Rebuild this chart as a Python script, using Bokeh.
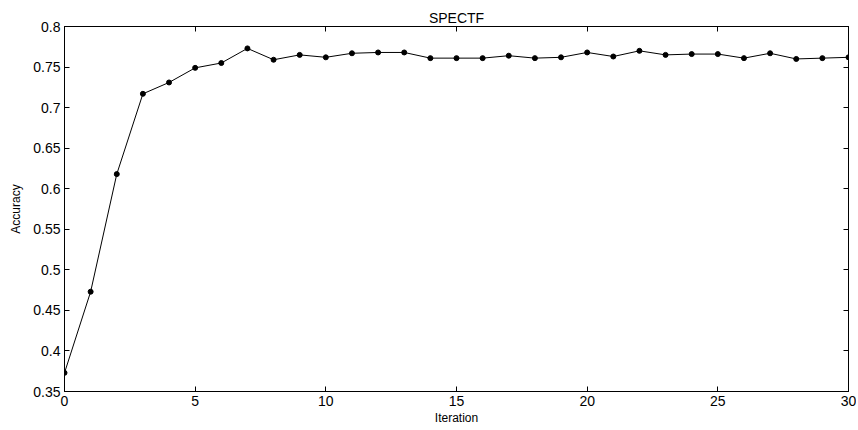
from bokeh.plotting import figure
from bokeh.models import LinearAxis, Range1d, FixedTicker
from bokeh.embed import file_html
from bokeh.resources import INLINE

iterations = list(range(31))
accuracy = [0.373, 0.473, 0.618, 0.717, 0.731, 0.749, 0.755, 0.773, 0.759, 0.765,
            0.762, 0.767, 0.768, 0.768, 0.761, 0.761, 0.761, 0.764, 0.761, 0.762,
            0.768, 0.763, 0.770, 0.765, 0.766, 0.766, 0.761, 0.767, 0.760, 0.761, 0.762]
x_ticks = [0, 5, 10, 15, 20, 25, 30]
y_ticks = [0.35, 0.4, 0.45, 0.5, 0.55, 0.6, 0.65, 0.7, 0.75, 0.8]

FONT = "Liberation Sans"

p = figure(width=856, height=428, output_backend="svg", toolbar_location=None,
           x_range=Range1d(0, 30), y_range=Range1d(0.35, 0.8),
           title="SPECTF", x_axis_label="Iteration", y_axis_label="Accuracy",
           min_border_left=64, min_border_right=8, min_border_top=26, min_border_bottom=37)

p.line(iterations, accuracy, line_color="black", line_width=1)
p.scatter(iterations, accuracy, size=5, color="black")

p.grid.visible = False
p.outline_line_color = "black"
p.outline_line_width = 1

p.title.align = "center"
p.title.text_font = FONT
p.title.text_font_size = "14px"
p.title.text_font_style = "normal"
p.title.text_color = "black"
p.title.standoff = 2

for ax in p.xaxis + p.yaxis:
    ax.major_label_text_font = FONT
    ax.major_label_text_font_size = "14px"
    ax.major_label_text_color = "black"
    ax.axis_label_text_font = FONT
    ax.axis_label_text_font_size = "12px"
    ax.axis_label_text_font_style = "normal"
    ax.axis_label_text_color = "black"
    ax.major_tick_in = 5
    ax.major_tick_out = 0
    ax.minor_tick_in = 0
    ax.minor_tick_out = 0
    ax.axis_line_color = "black"
    ax.major_tick_line_color = "black"
    ax.major_label_standoff = 4
    ax.axis_label_standoff = 2

p.yaxis.axis_label_standoff = 7

p.xaxis.ticker = FixedTicker(ticks=x_ticks)
p.yaxis.ticker = FixedTicker(ticks=y_ticks)
p.yaxis.formatter.use_scientific = False

top = LinearAxis(ticker=FixedTicker(ticks=x_ticks), major_label_text_font_size="0px",
                 major_tick_in=5, major_tick_out=0, minor_tick_in=0, minor_tick_out=0,
                 major_label_standoff=0, major_tick_line_color="black", axis_line_color="black")
right = LinearAxis(ticker=FixedTicker(ticks=y_ticks), major_label_text_font_size="0px",
                   major_tick_in=5, major_tick_out=0, minor_tick_in=0, minor_tick_out=0,
                   major_label_standoff=0, major_tick_line_color="black", axis_line_color="black")
top.major_label_overrides = {t: "" for t in x_ticks}
right.major_label_overrides = {t: "" for t in y_ticks}
p.add_layout(top, "above")
p.add_layout(right, "right")

open("out.html", "w").write(file_html(p, INLINE))
